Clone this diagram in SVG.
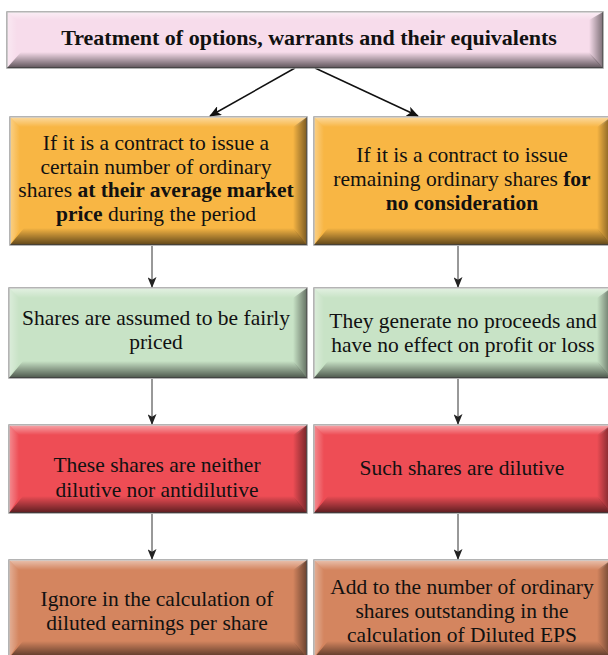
<svg xmlns="http://www.w3.org/2000/svg" width="608" height="655" viewBox="0 0 608 655">
<style>
  .t { font-family: "Liberation Serif", "Times New Roman", serif; font-size: 21.5px; fill: #111; text-anchor: middle; }
  .tb { font-family: "Liberation Serif", "Times New Roman", serif; font-size: 22px; font-weight: bold; fill: #111; text-anchor: middle; }
  .b { font-weight: bold; }
  .box { stroke: #9c9c9c; stroke-width: 1.5; }
  .bot { fill: url(#gBot); }
  .rgt { fill: url(#gRight); }
  .top { fill: url(#gTop); }
  .lft { fill: url(#gLeft); }
  .conn { stroke: #333; stroke-width: 1; fill: none; }
  .diag { stroke: #111; stroke-width: 1.5; fill: none; }
</style>
<defs>
  <linearGradient id="gBot" x1="0" y1="0" x2="0" y2="1">
    <stop offset="0" stop-color="#000" stop-opacity="0"/>
    <stop offset="1" stop-color="#000" stop-opacity="0.62"/>
  </linearGradient>
  <linearGradient id="gRight" x1="0" y1="0" x2="1" y2="0">
    <stop offset="0" stop-color="#000" stop-opacity="0"/>
    <stop offset="1" stop-color="#000" stop-opacity="0.5"/>
  </linearGradient>
  <linearGradient id="gTop" x1="0" y1="0" x2="0" y2="1">
    <stop offset="0" stop-color="#fff" stop-opacity="0.5"/>
    <stop offset="1" stop-color="#fff" stop-opacity="0"/>
  </linearGradient>
  <linearGradient id="gLeft" x1="0" y1="0" x2="1" y2="0">
    <stop offset="0" stop-color="#fff" stop-opacity="0.35"/>
    <stop offset="1" stop-color="#fff" stop-opacity="0"/>
  </linearGradient>
  <marker id="ah" viewBox="0 0 12 10" refX="11" refY="5" markerWidth="12" markerHeight="10" markerUnits="userSpaceOnUse" orient="auto">
    <path d="M0,0 L12,5 L0,10 L3,5 Z" fill="#111"/>
  </marker>
  <marker id="ahs" viewBox="0 0 12 10" refX="11" refY="5" markerWidth="11" markerHeight="9" markerUnits="userSpaceOnUse" orient="auto">
    <path d="M0,0 L12,5 L0,10 L3,5 Z" fill="#222"/>
  </marker>
</defs>

<g id="connectors">
  <line class="diag" x1="295" y1="68" x2="210" y2="116" marker-end="url(#ah)"/>
  <line class="diag" x1="315" y1="68" x2="418" y2="116" marker-end="url(#ah)"/>
  <line class="conn" x1="152" y1="246" x2="152" y2="287" marker-end="url(#ahs)"/>
  <line class="conn" x1="458" y1="246" x2="458" y2="287" marker-end="url(#ahs)"/>
  <line class="conn" x1="152" y1="379" x2="152" y2="424" marker-end="url(#ahs)"/>
  <line class="conn" x1="458" y1="379" x2="458" y2="424" marker-end="url(#ahs)"/>
  <line class="conn" x1="152" y1="514" x2="152" y2="559" marker-end="url(#ahs)"/>
  <line class="conn" x1="458" y1="514" x2="458" y2="559" marker-end="url(#ahs)"/>
</g>

<g id="title">
  <rect class="box" x="7" y="12" width="596" height="56" fill="#f7dceb"/>
  <polygon class="top" points="7,12 603,12 593,20 17,20"/>
  <polygon class="lft" points="7,12 17,20 17,54 7,68"/>
  <polygon class="rgt" points="603,12 603,68 589,54 589,20"/>
  <polygon class="bot" points="7,68 603,68 589,52 21,52"/>
  <text class="tb" x="309" y="45">Treatment of options, warrants and their equivalents</text>
</g>

<g id="avg-price">
  <rect class="box" x="10" y="117" width="297" height="128" fill="#f8b644"/>
  <polygon class="top" points="10,117 307,117 297,127 20,127"/>
  <polygon class="lft" points="10,117 20,127 20,229 10,245"/>
  <polygon class="rgt" points="307,117 307,245 293,229 293,127"/>
  <polygon class="bot" points="10,245 307,245 293,228 24,228"/>
  <text class="t" x="156" y="150">If it is a contract to issue a</text>
  <text class="t" x="156" y="174">certain number of ordinary</text>
  <text class="t" x="156" y="197">shares <tspan class="b">at their average market</tspan></text>
  <text class="t" x="156" y="221"><tspan class="b">price</tspan> during the period</text>
</g>

<g id="no-consideration">
  <rect class="box" x="314" y="117" width="297" height="128" fill="#f8b644"/>
  <polygon class="top" points="314,117 611,117 601,127 324,127"/>
  <polygon class="lft" points="314,117 324,127 324,229 314,245"/>
  <polygon class="rgt" points="611,117 611,245 597,229 597,127"/>
  <polygon class="bot" points="314,245 611,245 597,228 328,228"/>
  <text class="t" x="462" y="162">If it is a contract to issue</text>
  <text class="t" x="462" y="186">remaining ordinary shares <tspan class="b">for</tspan></text>
  <text class="t" x="462" y="210"><tspan class="b">no consideration</tspan></text>
</g>

<g id="fairly-priced">
  <rect class="box" x="9" y="288" width="298" height="90" fill="#c8e3c6"/>
  <polygon class="top" points="9,288 307,288 297,298 19,298"/>
  <polygon class="lft" points="9,288 19,298 19,362 9,378"/>
  <polygon class="rgt" points="307,288 307,378 293,362 293,298"/>
  <polygon class="bot" points="9,378 307,378 293,361 23,361"/>
  <text class="t" x="156" y="325">Shares are assumed to be fairly</text>
  <text class="t" x="156" y="349">priced</text>
</g>

<g id="no-proceeds">
  <rect class="box" x="314" y="288" width="297" height="90" fill="#c8e3c6"/>
  <polygon class="top" points="314,288 611,288 601,298 324,298"/>
  <polygon class="lft" points="314,288 324,298 324,362 314,378"/>
  <polygon class="rgt" points="611,288 611,378 597,362 597,298"/>
  <polygon class="bot" points="314,378 611,378 597,361 328,361"/>
  <text class="t" x="463" y="328">They generate no proceeds and</text>
  <text class="t" x="463" y="352">have no effect on profit or loss</text>
</g>

<g id="neither-dilutive">
  <rect class="box" x="9" y="425" width="298" height="88" fill="#ee4d55"/>
  <polygon class="top" points="9,425 307,425 297,435 19,435"/>
  <polygon class="lft" points="9,425 19,435 19,497 9,513"/>
  <polygon class="rgt" points="307,425 307,513 293,497 293,435"/>
  <polygon class="bot" points="9,513 307,513 293,496 23,496"/>
  <text class="t" x="157" y="472">These shares are neither</text>
  <text class="t" x="157" y="497">dilutive nor antidilutive</text>
</g>

<g id="dilutive">
  <rect class="box" x="314" y="425" width="297" height="88" fill="#ee4d55"/>
  <polygon class="top" points="314,425 611,425 601,435 324,435"/>
  <polygon class="lft" points="314,425 324,435 324,497 314,513"/>
  <polygon class="rgt" points="611,425 611,513 597,497 597,435"/>
  <polygon class="bot" points="314,513 611,513 597,496 328,496"/>
  <text class="t" x="462" y="475">Such shares are dilutive</text>
</g>

<g id="ignore">
  <rect class="box" x="9" y="560" width="298" height="98" fill="#d4855f"/>
  <polygon class="top" points="9,560 307,560 297,570 19,570"/>
  <polygon class="lft" points="9,560 19,570 19,642 9,658"/>
  <polygon class="rgt" points="307,560 307,658 293,642 293,570"/>
  <polygon class="bot" points="9,658 307,658 293,641 23,641"/>
  <text class="t" x="157" y="606">Ignore in the calculation of</text>
  <text class="t" x="157" y="630">diluted earnings per share</text>
</g>

<g id="add-to-shares">
  <rect class="box" x="314" y="560" width="297" height="98" fill="#d4855f"/>
  <polygon class="top" points="314,560 611,560 601,570 324,570"/>
  <polygon class="lft" points="314,560 324,570 324,642 314,658"/>
  <polygon class="rgt" points="611,560 611,658 597,642 597,570"/>
  <polygon class="bot" points="314,658 611,658 597,641 328,641"/>
  <text class="t" x="462" y="594">Add to the number of ordinary</text>
  <text class="t" x="462" y="618">shares outstanding in the</text>
  <text class="t" x="462" y="642">calculation of Diluted EPS</text>
</g>
</svg>
